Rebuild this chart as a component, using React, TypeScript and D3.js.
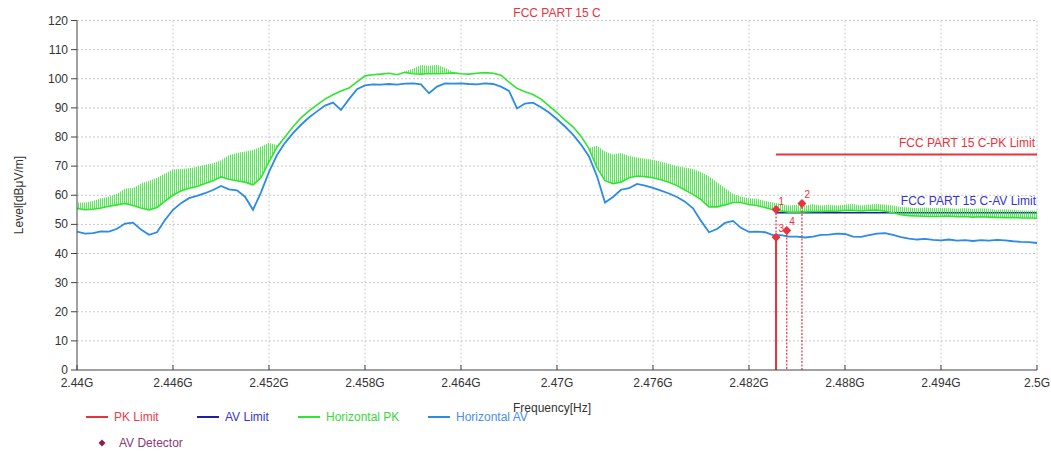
import React from "react";
import * as d3 from "d3";

const W = 1051;
const H = 452;

// Frequency grid: 2.44 GHz .. 2.50 GHz, 0.5 MHz step (121 samples)
const fStart = 2.44;
const fStep = 0.0005;

const xTickValues = [2.44, 2.446, 2.452, 2.458, 2.464, 2.47, 2.476, 2.482, 2.488, 2.494, 2.5];
const xTickLabels = ["2.44G", "2.446G", "2.452G", "2.458G", "2.464G", "2.47G", "2.476G", "2.482G", "2.488G", "2.494G", "2.5G"];
const yTickValues = [0, 10, 20, 30, 40, 50, 60, 70, 80, 90, 100, 110, 120];

// Horizontal AV trace (dBuV/m)
const avValues = [
  47.5, 46.8, 47.0, 47.6, 47.5, 48.5, 50.3, 50.6, 48.2, 46.4,
  47.3, 51.5, 55.0, 57.3, 59.0, 59.8, 60.7, 61.8, 63.2, 62.0,
  61.7, 59.5, 55.0, 61.0, 68.0, 73.8, 78.0, 81.3, 84.2, 86.7,
  88.8, 90.8, 91.8, 89.3, 93.0, 96.4, 97.7, 98.1, 98.0, 98.2,
  98.0, 98.3, 98.4, 98.1, 95.0, 97.3, 98.4, 98.3, 98.4, 98.2,
  98.1, 98.4, 98.2, 97.3, 95.8, 89.8, 91.5, 91.8, 90.2, 88.4,
  86.1, 83.6, 80.8, 77.4, 73.3, 66.5, 57.5, 59.4, 61.9, 62.4,
  63.9, 63.3, 62.5, 61.6, 60.6, 59.4, 57.8, 55.5, 51.2, 47.3,
  48.4, 50.5, 51.2, 48.8, 47.4, 47.5, 47.3, 46.3, 46.3, 45.8,
  45.8, 45.5, 45.8, 46.4, 46.5, 46.8, 46.7, 45.8, 45.7, 46.3,
  46.8, 47.0, 46.4, 45.6, 45.1, 44.8, 45.0, 44.7, 44.5, 44.8,
  44.4, 44.6, 44.3, 44.6, 44.4, 44.7, 44.5, 44.2, 44.0, 43.9,
  43.6,
];

// Horizontal PK trace: base level
const pkValues = [
  55.5, 55.0, 55.2, 55.6, 56.2, 56.7, 57.2, 56.5, 55.6, 55.0,
  55.8, 58.0, 60.0, 61.5, 62.4, 63.0, 64.0, 65.0, 66.3, 65.5,
  65.0, 64.5, 63.6, 66.0, 71.5, 76.5, 80.0, 83.5, 86.6, 89.0,
  91.0, 93.0, 94.5, 95.8, 96.8, 98.9, 101.0, 101.4, 101.6, 101.9,
  101.4, 102.2, 101.7, 101.6, 101.8, 101.7, 101.8, 102.0, 101.7, 101.6,
  101.9, 102.1, 101.9, 101.2, 98.8, 96.7, 95.5, 94.6, 93.0, 90.7,
  88.4, 85.8, 83.5, 80.3, 76.0, 69.5, 65.0, 64.0, 64.5, 66.0,
  66.6, 66.4, 66.0, 65.3, 64.5, 63.3, 61.8, 60.3, 58.5, 56.0,
  56.0, 56.7, 57.5, 57.5, 56.8, 56.5, 55.8, 55.0, 54.6, 54.2,
  54.2, 54.3, 54.4, 54.4, 54.6, 54.5, 54.8, 54.8, 54.6, 54.8,
  54.9, 54.5, 54.0, 53.3, 53.0, 52.9, 52.8, 52.7, 52.8, 52.9,
  52.6, 52.7, 52.5, 52.6, 52.5, 52.4, 52.3, 52.4, 52.2, 52.2,
  52.1,
];

// Horizontal PK trace: spike envelope (peak of the noisy trace)
const pkPeaks = [
  57.5, 57.5, 58.0, 59.0, 59.5, 60.5, 62.3, 62.5, 64.0, 65.0,
  66.0, 67.5, 68.8, 69.0, 69.3, 69.8, 70.5, 71.0, 72.0, 73.8,
  74.5, 75.0, 75.5, 76.7, 78.0, 77.2, 80.2, 83.7, 86.8, 89.2,
  91.2, 93.2, 94.7, 96.0, 97.0, 99.1, 101.2, 101.6, 101.8, 102.1,
  101.6, 102.5, 103.5, 104.7, 104.5, 104.8, 103.8, 102.3, 101.9, 101.8,
  102.1, 102.3, 102.1, 101.4, 99.0, 96.9, 95.7, 94.8, 93.2, 90.9,
  88.6, 86.0, 83.7, 80.5, 76.2, 77.0, 75.0, 74.0, 74.5, 73.5,
  73.0, 72.5, 72.2, 71.5, 70.8, 70.0, 69.5, 69.0, 68.0, 66.5,
  64.5, 62.5, 60.5, 59.5, 59.0, 58.8, 58.0, 57.5, 57.0, 56.5,
  56.7, 56.5, 57.0, 56.5, 56.8, 56.5, 56.8, 57.0, 56.5, 56.8,
  57.0, 56.8, 56.5, 56.0, 55.8, 55.5, 55.8, 55.5, 55.7, 55.5,
  55.4, 55.6, 55.3, 55.5, 55.4, 55.0, 55.2, 55.0, 54.8, 54.8,
  54.6,
];

// Limits
const limitStart = 2.48369;
const limitEnd = 2.5;
const pkLimit = 74;
const avLimit = 54;

// Markers
const markerIds = ["1", "2", "3", "4"];
const markerFreqs = [2.48369, 2.48531, 2.48369, 2.48436];
const markerLevels = [55.1, 57.2, 45.6, 47.9];
const markerSolid = [false, false, true, false];

const RED = "#e8323c";
const DARKBLUE = "#1f1fa6";
const GREEN = "#2ee62e";
const BLUE = "#2b8be6";
const FONT = "'Liberation Sans', Arial, sans-serif";

export default function App() {
  const x = d3.scaleLinear().domain([2.44, 2.5]).range([77, 1037]);
  const y = d3.scaleLinear().domain([0, 120]).range([370, 20.5]);
  const freqs = avValues.map((_, i) => fStart + i * fStep);

  const line = d3
    .line<number>()
    .x((_, i) => x(freqs[i]))
    .y((d) => y(d));
  const band = d3
    .area<number>()
    .x((_, i) => x(freqs[i]))
    .y0((_, i) => y(pkValues[i]))
    .y1((d) => y(d));

  const legendItems = [
    { label: "PK Limit", color: RED, text: "#e8404a", x: 86 },
    { label: "AV Limit", color: DARKBLUE, text: "#3535cc", x: 197 },
    { label: "Horizontal PK", color: GREEN, text: "#3ad83a", x: 298 },
    { label: "Horizontal AV", color: BLUE, text: "#4a8ee8", x: 428 },
  ];

  return (
    <svg
      width={W}
      height={H}
      style={{ position: "absolute", left: 0, top: 0, background: "#fff" }}
      fontFamily={FONT}
    >
      <defs>
        <pattern id="spikes" width="2" height="4" patternUnits="userSpaceOnUse">
          <rect x="0" y="0" width="0.9" height="4" fill={GREEN} />
        </pattern>
        <clipPath id="plot">
          <rect x={77} y={20} width={960} height={350} />
        </clipPath>
      </defs>

      {/* grid */}
      {yTickValues.slice(1).map((v) => (
        <line key={"gy" + v} x1={77} x2={1037} y1={y(v)} y2={y(v)} stroke="#c8c8c8" strokeDasharray="2,2" strokeWidth={1} />
      ))}
      {xTickValues.slice(1).map((v) => (
        <line key={"gx" + v} x1={x(v)} x2={x(v)} y1={y(120)} y2={y(0)} stroke="#c8c8c8" strokeDasharray="2,2" strokeWidth={1} />
      ))}

      {/* title */}
      <text x={557} y={17} textAnchor="middle" fontSize={12} fill={RED}>FCC PART 15 C</text>

      <g clipPath="url(#plot)">
        {/* limits */}
        <line x1={x(limitStart)} x2={x(limitEnd)} y1={y(pkLimit)} y2={y(pkLimit)} stroke={RED} strokeWidth={2} />
        <line x1={x(limitStart)} x2={x(limitEnd)} y1={y(avLimit)} y2={y(avLimit)} stroke={DARKBLUE} strokeWidth={1.5} />

        {/* PK trace */}
        <path d={band(pkPeaks) ?? ""} fill="url(#spikes)" stroke="none" opacity={0.9} />
        <path d={line(pkValues) ?? ""} fill="none" stroke={GREEN} strokeWidth={1.6} />

        {/* AV trace */}
        <path d={line(avValues) ?? ""} fill="none" stroke={BLUE} strokeWidth={1.8} />
      </g>

      {/* limit labels */}
      <text x={1035} y={147} textAnchor="end" fontSize={12} fill={RED}>FCC PART 15 C-PK Limit</text>
      <text x={1036} y={205} textAnchor="end" fontSize={12} fill="#3535cc">FCC PART 15 C-AV Limit</text>

      {/* marker lines */}
      {markerIds.map((id, i) => (
        <line
          key={"ml" + id}
          x1={x(markerFreqs[i])}
          x2={x(markerFreqs[i])}
          y1={y(markerLevels[i])}
          y2={y(0)}
          stroke={RED}
          strokeWidth={markerSolid[i] ? 2 : 1.2}
          strokeDasharray={markerSolid[i] ? undefined : "2,1.5"}
        />
      ))}
      {markerIds.map((id, i) => {
        const cx = x(markerFreqs[i]);
        const cy = y(markerLevels[i]);
        return (
          <g key={"m" + id}>
            <path d={`M${cx},${cy - 4.5} L${cx + 4.5},${cy} L${cx},${cy + 4.5} L${cx - 4.5},${cy} Z`} fill={RED} />
            <text x={cx + 2.5} y={cy - 5} fontSize={10} fill={RED}>{id}</text>
          </g>
        );
      })}

      {/* axes */}
      <line x1={77} x2={77} y1={y(120)} y2={y(0)} stroke="#444" strokeWidth={1} />
      <line x1={77} x2={1037} y1={y(0)} y2={y(0)} stroke="#444" strokeWidth={1} />
      {yTickValues.map((v) => (
        <g key={"yt" + v}>
          <line x1={71} x2={77} y1={y(v)} y2={y(v)} stroke="#444" />
          <text x={68} y={y(v) + 4} textAnchor="end" fontSize={12} fill="#333">{v}</text>
        </g>
      ))}
      {xTickValues.map((v, i) => (
        <g key={"xt" + v}>
          <line x1={x(v)} x2={x(v)} y1={y(0) - 5} y2={y(0)} stroke="#444" />
          <text x={x(v)} y={387} textAnchor="middle" fontSize={12} fill="#333">{xTickLabels[i]}</text>
        </g>
      ))}

      {/* axis titles */}
      <text transform="translate(23,195) rotate(-90)" textAnchor="middle" fontSize={12} fill="#333">Level[dBμV/m]</text>
      <text x={552} y={412} textAnchor="middle" fontSize={12} fill="#333">Frequency[Hz]</text>

      {/* legend */}
      {legendItems.map((it) => (
        <g key={it.label}>
          <line x1={it.x} x2={it.x + 22} y1={417} y2={417} stroke={it.color} strokeWidth={2} />
          <text x={it.x + 28} y={421} fontSize={12} fill={it.text}>{it.label}</text>
        </g>
      ))}
      <path d="M102,439.5 L105.5,443 L102,446.5 L98.5,443 Z" fill="#8b1f50" />
      <text x={119} y={447} fontSize={12} fill="#8a3a70">AV Detector</text>
    </svg>
  );
}
